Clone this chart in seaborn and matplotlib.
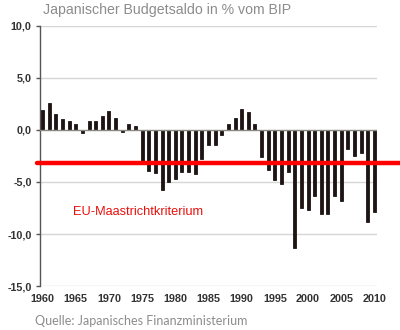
import matplotlib
matplotlib.use("Agg")
import matplotlib.pyplot as plt
import seaborn as sns
import numpy as np
import pandas as pd

# Japanese general budget balance, % of GDP
years = list(range(1960, 2011))
balance = [
    1.9, 2.6, 1.5, 1.1, 0.85, 0.55, -0.3, 0.85, 0.9, 1.3,
    1.8, 1.2, -0.2, 0.6, 0.4, -3.3, -3.9, -4.1, -5.8, -5.0,
    -4.7, -4.0, -4.0, -4.2, -2.8, -1.45, -1.45, -0.5, 0.55, 1.2,
    2.0, 1.7, 0.6, -2.6, -3.8, -4.8, -5.2, -4.0, -11.3, -7.5,
    -7.7, -6.3, -8.1, -8.05, -6.3, -6.8, -1.8, -2.5, -2.25, -8.8,
    -7.9,
]
ytick_values = [10, 5, 0, -5, -10, -15]
xtick_years = list(range(1960, 2011, 5))
maastricht_limit = -3.2

title = "Japanischer Budgetsaldo in % vom BIP"
source = "Quelle: Japanisches Finanzministerium"
limit_label = "EU-Maastrichtkriterium"

df = pd.DataFrame({"Jahr": years, "Saldo": balance})

sns.set_theme(style="white")
plt.rcParams["font.family"] = ["Liberation Sans", "DejaVu Sans"]

fig = plt.figure(figsize=(4, 3.3), dpi=100)
ax = fig.add_axes([0.1, 0.1333, 0.8425, 0.788])

sns.barplot(data=df, x="Jahr", y="Saldo", color="#1e1414", saturation=1,
            width=0.45, ax=ax, zorder=3, edgecolor="#1e1414", linewidth=0.6)

ax.set_xlim(-0.4, len(years) - 0.6)
ax.set_ylim(-15, 10)

# horizontal grid
for v in ytick_values:
    if v != 0:
        ax.axhline(v, color="#d6d6d6", lw=1.0, zorder=1)
ax.axhline(0, color="#8a8a80", lw=1.0, zorder=4)

# Maastricht criterion line
ax.axhline(maastricht_limit, xmin=-0.01, xmax=1.07, color="#ff0000",
           lw=3.2, zorder=5, clip_on=False)
ax.text(years.index(1965) - 0.4, -7.9, limit_label, color="#e8100c",
        fontsize=9.2, va="center", ha="left")

ax.set_yticks(ytick_values)
ax.set_yticklabels([f"{v:.1f}".replace(".", ",") for v in ytick_values],
                   fontsize=7.8, fontweight="bold", color="#333333")
ax.set_xticks([years.index(y) for y in xtick_years])
ax.set_xticklabels([str(y) for y in xtick_years], fontsize=7.8,
                   fontweight="bold", color="#333333")
ax.tick_params(axis="y", direction="out", length=3, width=1,
               color="#555555", pad=3, left=True)
ax.tick_params(axis="x", length=0, pad=6)
ax.set_xlabel("")
ax.set_ylabel("")

for side in ["top", "right", "bottom"]:
    ax.spines[side].set_visible(False)
ax.spines["left"].set_color("#555555")
ax.spines["left"].set_linewidth(1.0)

fig.text(43 / 400, 1 - 10 / 330, title, color="#8c8c8c", fontsize=10.2,
         va="center", ha="left")
fig.text(35 / 400, 1 - 321 / 330, source, color="#8c8c8c", fontsize=9,
         va="center", ha="left", family=["Lato", "DejaVu Sans"])

fig.savefig("out.png", dpi=100, facecolor="white")
